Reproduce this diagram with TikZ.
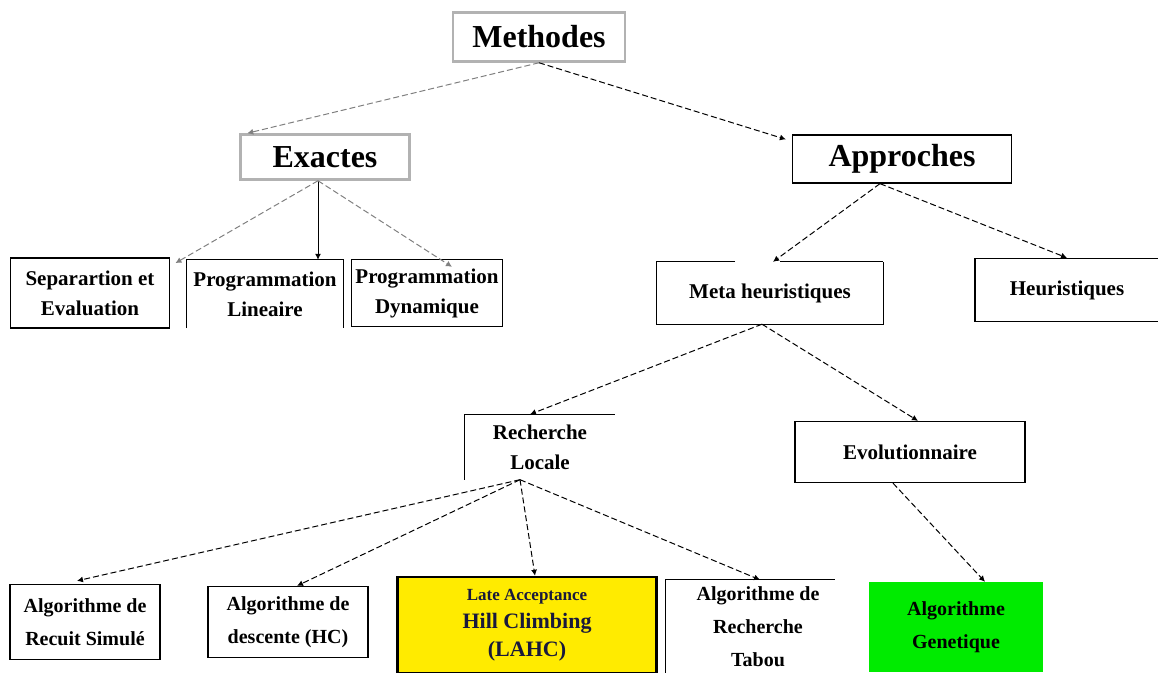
\documentclass[tikz,border=0pt]{standalone}
\usepackage{fontspec}
\setmainfont{Liberation Serif}
\usetikzlibrary{arrows.meta}
\definecolor{jaune}{RGB}{255,235,0}
\definecolor{vert}{RGB}{0,235,0}
\definecolor{encre}{RGB}{25,25,60}
\tikzset{
  boite/.style={draw, line width=1.3pt, inner sep=0pt, align=center},
  grand/.style={font=\bfseries\fontsize{32}{36}\selectfont},
  moyen/.style={font=\bfseries\fontsize{21}{30}\selectfont},
  petit/.style={font=\bfseries\fontsize{20}{33}\selectfont},
  lien/.style={line width=1pt, dash pattern=on 6pt off 3pt, -{Latex[length=6pt,width=6pt]}},
}
\begin{document}
\begin{tikzpicture}[x=1pt,y=-1pt]
  \clip (0,0) rectangle (1158,672);
  \node[boite, grand, draw=gray!60, line width=2.5pt, minimum width=172, minimum height=49] (meth) at (539,37) {Methodes};
  \node[boite, grand, draw=gray!60, line width=2.5pt, minimum width=169, minimum height=45] (exa) at (325,157) {Exactes};
  \node[boite, grand, minimum width=219, minimum height=48] (appr) at (902,159) {Approches};
  \node[boite, moyen, line width=1.8pt, minimum width=159, minimum height=70] (sep) at (90,293) {Separartion et\\Evaluation};
  \node[moyen, inner sep=0pt, align=center, minimum width=156, minimum height=68] (lin) at (265,294) {Programmation\\Lineaire};
  \node[boite, moyen, minimum width=151, minimum height=67] (dyn) at (427,293) {Programmation\\Dynamique};
  \node[moyen, inner sep=0pt, minimum width=226, minimum height=62] (meta) at (770,293) {Meta heuristiques};
  \node[boite, moyen, minimum width=184, minimum height=63] (heur) at (1067,290) {Heuristiques};
  \node[moyen, inner sep=0pt, align=center, minimum width=150, minimum height=65] (rech) at (540,447) {Recherche\\Locale};
  \node[boite, moyen, minimum width=230, minimum height=61] (evol) at (910,452) {Evolutionnaire};
  \node[boite, petit, minimum width=150, minimum height=75] (recuit) at (85,622) {Algorithme de\\Recuit Simul\'e};
  \node[boite, petit, minimum width=160, minimum height=71] (desc) at (288,622) {Algorithme de\\descente (HC)};
  \node[boite, fill=jaune, line width=2.5pt, text=encre, minimum width=259, minimum height=96,
        font=\bfseries\fontsize{22}{28}\selectfont] (lahc) at (527,625)
        {{\fontsize{17}{28}\selectfont Late Acceptance}\\Hill Climbing\\(LAHC)};
  \node[petit, inner sep=0pt, align=center, minimum width=184, minimum height=94] (tabou) at (758,627) {Algorithme de\\Recherche\\Tabou};
  \node[petit, fill=vert, inner sep=0pt, align=center, minimum width=174, minimum height=90] (gen) at (956,627) {Algorithme\\Genetique};
  % bords ouverts
  \draw[line width=1.3pt] (lin.south west) -- (lin.north west) -- (lin.north east) -- (lin.south east);
  \draw[line width=1.3pt] ([xshift=-35]meta.north) -- (meta.north west) -- (meta.south west)
    -- (meta.south east) -- (meta.north east);
  \draw[line width=1.3pt] ([xshift=10]meta.north) -- (meta.north east);
  \draw[line width=1.3pt] (rech.south west) -- (rech.north west) -- (rech.north east);
  \draw[line width=1.3pt] (tabou.south west) -- (tabou.north west) -- ([xshift=-15]tabou.north east);
  % liens
  \draw[lien, gray] (meth.south) -- ([xshift=8]exa.north west);
  \draw[lien] (meth.south) -- ([xshift=-6,yshift=-5]appr.north west);
  \draw[lien, gray] ([xshift=-7]exa.south) -- ([xshift=5,yshift=-6]sep.north east);
  \draw[line width=1pt, -{Latex[length=6pt,width=6pt]}] ([xshift=-7]exa.south) -- ([xshift=53]lin.north);
  \draw[lien, gray] ([xshift=-7]exa.south) -- ([xshift=25,yshift=-8]dyn.north);
  \draw[lien] ([xshift=-22]appr.south) -- ([xshift=3]meta.north);
  \draw[lien] ([xshift=-22]appr.south) -- (heur.north);
  \draw[lien] ([xshift=-8]meta.south) -- ([xshift=-10]rech.north);
  \draw[lien] ([xshift=-8]meta.south) -- ([xshift=8]evol.north);
  \draw[lien] ([xshift=-20]rech.south) -- ([xshift=-8,yshift=3]recuit.north);
  \draw[lien] ([xshift=-20]rech.south) -- ([xshift=9]desc.north);
  \draw[lien] ([xshift=-20]rech.south) -- ([xshift=8]lahc.north);
  \draw[lien] ([xshift=-20]rech.south) -- ([xshift=2]tabou.north);
  \draw[lien] ([xshift=-17]evol.south) -- ([xshift=29]gen.north);
\end{tikzpicture}
\end{document}
